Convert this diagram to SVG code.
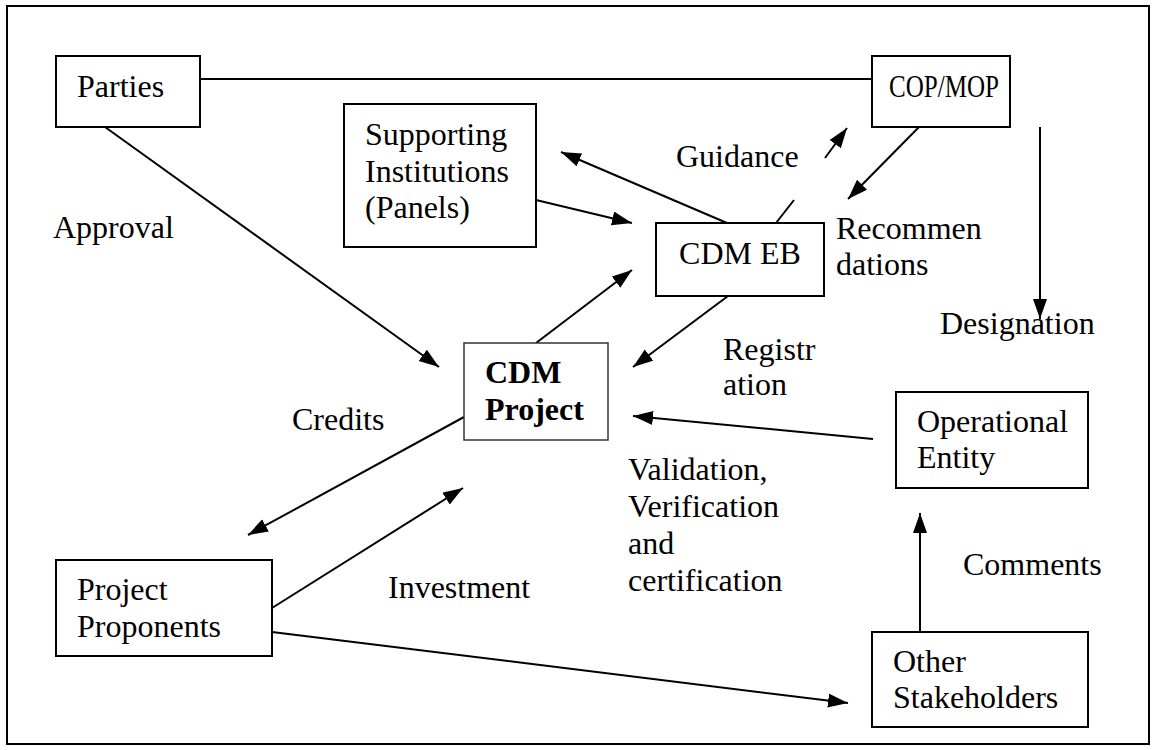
<svg xmlns="http://www.w3.org/2000/svg" width="1156" height="750" viewBox="0 0 1156 750">
<style>
text{font-family:"Liberation Serif","Times New Roman",serif;font-size:32px;fill:#000}
.box{fill:#fff;stroke:#000;stroke-width:2}
.thin{fill:#fff;stroke:#333;stroke-width:1.5}
.c{stroke:#000;stroke-width:2;fill:none}
.a{marker-end:url(#ah)}
.b{font-weight:bold}
</style>
<defs>
<marker id="ah" markerUnits="userSpaceOnUse" markerWidth="22" markerHeight="16" refX="20" refY="7" orient="auto" viewBox="0 0 22 16">
<path d="M0,0 L20,7 L0,14 z" fill="#000"/>
</marker>
</defs>
<rect x="0" y="0" width="1156" height="750" fill="#fff"/>
<rect x="7" y="6" width="1142" height="738" fill="none" stroke="#000" stroke-width="2"/>
<g id="connectors">
<line class="c" x1="200" y1="79" x2="872" y2="79"/>
<line class="c a" x1="105" y1="127" x2="439" y2="367"/>
<line class="c a" x1="727" y1="223" x2="561" y2="152"/>
<line class="c a" x1="536" y1="200" x2="632" y2="223"/>
<line class="c" x1="776" y1="223" x2="794" y2="200"/>
<line class="c a" x1="825" y1="158" x2="847" y2="128"/>
<line class="c a" x1="919" y1="127" x2="848" y2="199"/>
<line class="c a" x1="1040" y1="127" x2="1040" y2="319"/>
<line class="c a" x1="536" y1="343" x2="632" y2="270"/>
<line class="c a" x1="728" y1="296" x2="633" y2="367"/>
<line class="c a" x1="873" y1="439" x2="633" y2="416"/>
<line class="c a" x1="464" y1="417" x2="248" y2="535"/>
<line class="c a" x1="272" y1="608" x2="463" y2="488"/>
<line class="c a" x1="272" y1="632" x2="848" y2="703"/>
<line class="c a" x1="920" y1="632" x2="920" y2="513"/>
</g>
<g id="parties"><rect class="box" x="56" y="56" width="144" height="71"/><text x="77" y="97">Parties</text></g>
<g id="copmop"><rect class="box" x="872" y="56" width="138" height="71"/><text x="889" y="97" textLength="110" lengthAdjust="spacingAndGlyphs">COP/MOP</text></g>
<g id="supporting"><rect class="box" x="344" y="104" width="192" height="143"/><text x="365" y="145">Supporting</text><text x="365" y="182">Institutions</text><text x="365" y="218">(Panels)</text></g>
<g id="cdmeb"><rect class="box" x="656" y="223" width="168" height="73"/><text x="740" y="264" text-anchor="middle">CDM EB</text></g>
<g id="cdmproject"><rect class="thin" x="464" y="343" width="144" height="97"/><text class="b" x="485" y="383">CDM</text><text class="b" x="485" y="420">Project</text></g>
<g id="operational"><rect class="box" x="896" y="392" width="192" height="96"/><text x="917" y="432">Operational</text><text x="917" y="468">Entity</text></g>
<g id="stakeholders"><rect class="box" x="872" y="632" width="216" height="95"/><text x="893" y="672">Other</text><text x="893" y="708">Stakeholders</text></g>
<g id="proponents"><rect class="box" x="56" y="560" width="216" height="96"/><text x="77" y="600">Project</text><text x="77" y="637">Proponents</text></g>
<g id="labels">
<text x="53" y="238">Approval</text>
<text x="676" y="167">Guidance</text>
<text x="836" y="239">Recommen</text><text x="836" y="275">dations</text>
<text x="940" y="334">Designation</text>
<text x="723" y="360">Registr</text><text x="723" y="395">ation</text>
<text x="292" y="430">Credits</text>
<text x="628" y="480">Validation,</text><text x="628" y="517">Verification</text><text x="628" y="554">and</text><text x="628" y="591">certification</text>
<text x="388" y="598">Investment</text>
<text x="963" y="575">Comments</text>
</g>
</svg>
